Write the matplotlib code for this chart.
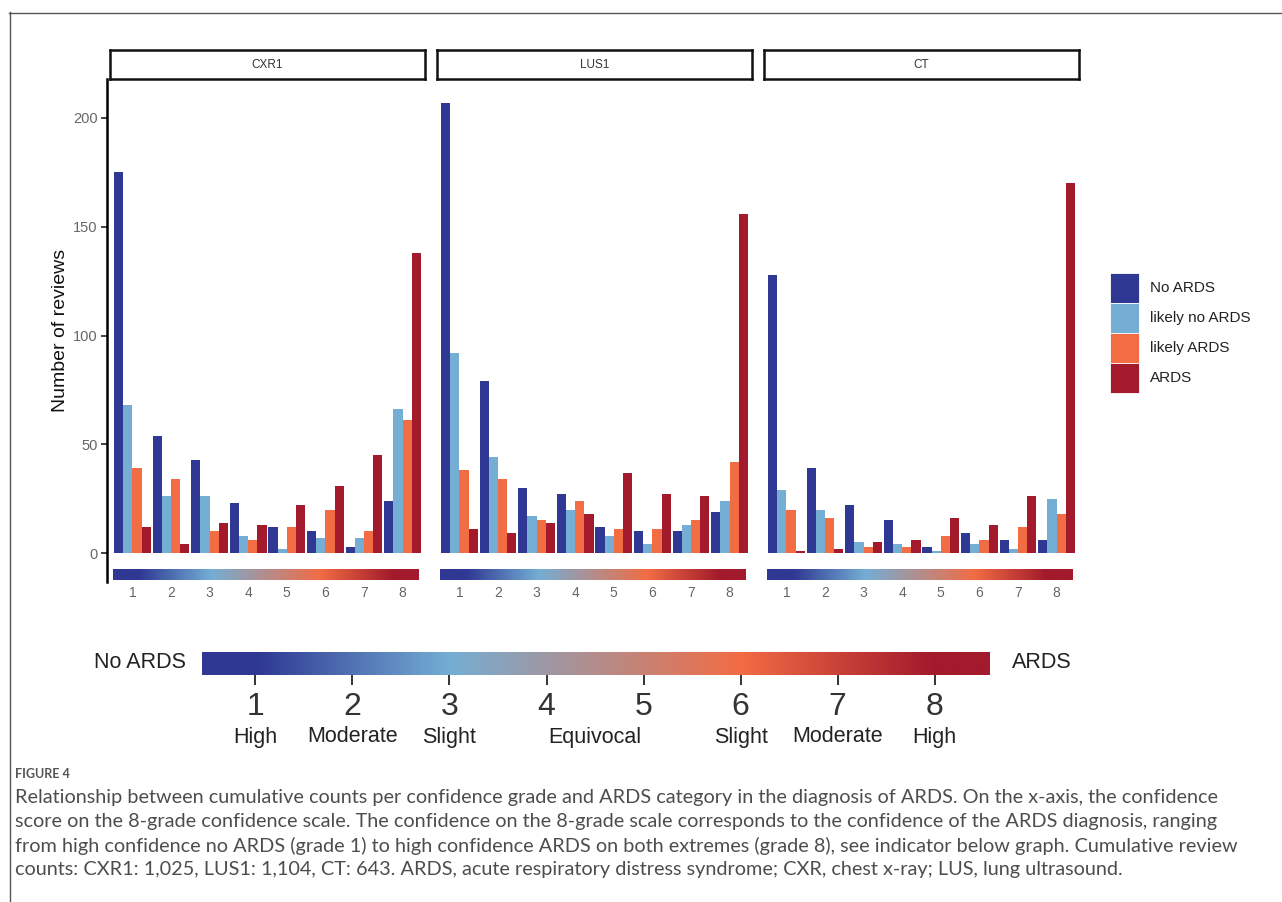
import numpy as np
import matplotlib
matplotlib.use("Agg")
import matplotlib.pyplot as plt
from matplotlib.colors import LinearSegmentedColormap, Normalize
from matplotlib.patches import Rectangle
from matplotlib.lines import Line2D

# ---------------- data ----------------
panels = ["CXR1", "LUS1", "CT"]
grades = [1, 2, 3, 4, 5, 6, 7, 8]
categories = ["No ARDS", "likely no ARDS", "likely ARDS", "ARDS"]
cat_colors = ["#2f3893", "#74aed4", "#f26c44", "#a21a2c"]

cxr1_no_ards = [175, 54, 43, 23, 12, 10, 3, 24]
cxr1_likely_no = [68, 26, 26, 8, 2, 7, 7, 66]
cxr1_likely = [39, 34, 10, 6, 12, 20, 10, 61]
cxr1_ards = [12, 4, 14, 13, 22, 31, 45, 138]

lus1_no_ards = [207, 79, 30, 27, 12, 10, 10, 19]
lus1_likely_no = [92, 44, 17, 20, 8, 4, 13, 24]
lus1_likely = [38, 34, 15, 24, 11, 11, 15, 42]
lus1_ards = [11, 9, 14, 18, 37, 27, 26, 156]

ct_no_ards = [128, 39, 22, 15, 3, 9, 6, 6]
ct_likely_no = [29, 20, 5, 4, 1, 4, 2, 25]
ct_likely = [20, 16, 3, 3, 8, 6, 12, 18]
ct_ards = [1, 2, 5, 6, 16, 13, 26, 170]

panel_data = {
    "CXR1": [cxr1_no_ards, cxr1_likely_no, cxr1_likely, cxr1_ards],
    "LUS1": [lus1_no_ards, lus1_likely_no, lus1_likely, lus1_ards],
    "CT": [ct_no_ards, ct_likely_no, ct_likely, ct_ards],
}

y_ticks = [0, 50, 100, 150, 200]
conf_labels = ["High", "Moderate", "Slight", "Equivocal", "Slight", "Moderate", "High"]
conf_label_pos = [1, 2, 3, 4.5, 6, 7, 8]

caption_title = "FIGURE 4"
caption_lines = [
    "Relationship between cumulative counts per confidence grade and ARDS category in the diagnosis of ARDS. On the x-axis, the confidence",
    "score on the 8-grade confidence scale. The confidence on the 8-grade scale corresponds to the confidence of the ARDS diagnosis, ranging",
    "from high confidence no ARDS (grade 1) to high confidence ARDS on both extremes (grade 8), see indicator below graph. Cumulative review",
    "counts: CXR1: 1,025, LUS1: 1,104, CT: 643. ARDS, acute respiratory distress syndrome; CXR, chest x-ray; LUS, lung ultrasound.",
]

# ---------------- layout ----------------
W, H, DPI = 1282, 902, 100
plt.rcParams["font.family"] = ["Liberation Sans", "DejaVu Sans"]

fig = plt.figure(figsize=(W / DPI, H / DPI), dpi=DPI)
fig.patch.set_facecolor("white")


def rect(x0, y0, x1, y1):
    return [x0 / W, 1 - y1 / H, (x1 - x0) / W, (y1 - y0) / H]


def fx(x):
    return x / W


def fy(y):
    return 1 - y / H


cmap = LinearSegmentedColormap.from_list(
    "ards", [(0.0, "#2f3893"), (2 / 7, "#74aed4"), (5 / 7, "#f26c44"), (1.0, "#a21a2c")]
)
norm = Normalize(1, 8)
grad = np.linspace(0.3, 8.7, 600)[None, :]

# outer page frame
fig.add_artist(Line2D([fx(9), fx(1282)], [fy(12.5), fy(12.5)], color="#555555", lw=1.0))
fig.add_artist(Line2D([fx(9.5), fx(9.5)], [fy(12), fy(902)], color="#555555", lw=1.0))

panel_x = [(110, 425), (437, 752), (764, 1079)]
YMIN, YMAX = -13.3, 217.9
group_w = 0.95
bar_w = group_w / 4

for i, (name, (x0, x1)) in enumerate(zip(panels, panel_x)):
    ax = fig.add_axes(rect(x0, 79, x1, 582))
    vals = panel_data[name]
    g = np.array(grades, dtype=float)
    for k, (series, col) in enumerate(zip(vals, cat_colors)):
        ax.bar(g + (k - 1.5) * bar_w, series, width=bar_w, color=col, linewidth=0,
               label=categories[k])
    # colour strip inside panel
    ax.imshow(grad, extent=(0.5, 8.42, -12.3, -7.4), aspect="auto", cmap=cmap,
              norm=norm, interpolation="bilinear")
    ax.set_xlim(0.42, 8.58)
    ax.set_ylim(YMIN, YMAX)
    for s in ["top", "right", "bottom"]:
        ax.spines[s].set_visible(False)
    ax.set_xticks(grades)
    ax.set_xticklabels([str(v) for v in grades], color="#666666", fontsize=10)
    ax.tick_params(axis="x", length=0, pad=3)
    if i == 0:
        ax.spines["left"].set_position(("outward", 2))
        ax.spines["left"].set_linewidth(1.8)
        ax.set_yticks(y_ticks)
        ax.set_yticklabels([str(v) for v in y_ticks], color="#666666", fontsize=10.5)
        ax.tick_params(axis="y", length=4, width=1.2, color="#222222", pad=3)
        ax.set_ylabel("Number of reviews", fontsize=14, color="#111111", labelpad=3)
    else:
        ax.spines["left"].set_visible(False)
        ax.set_yticks([])
    ax.patch.set_alpha(0)

    # strip
    sax = fig.add_axes(rect(x0, 50, x1, 79))
    sax.set_xticks([])
    sax.set_yticks([])
    for s in sax.spines.values():
        s.set_linewidth(1.8)
        s.set_color("#111111")
    sax.text(0.5, 0.5, name, ha="center", va="center", fontsize=8.5, color="#333333",
             transform=sax.transAxes)

# legend (category keys)
key_x0, key_x1 = 1110, 1139
for k, (lab, col) in enumerate(zip(categories, cat_colors)):
    ky0 = 273 + 30 * k
    fig.add_artist(Rectangle((fx(key_x0), fy(ky0 + 30)), (key_x1 - key_x0) / W, 30 / H,
                             transform=fig.transFigure, facecolor=col, edgecolor="white",
                             linewidth=0.6))
    fig.text(fx(1150), fy(ky0 + 15), lab, ha="left", va="center", fontsize=11,
             color="#222222")

# bottom indicator bar
bax = fig.add_axes(rect(202, 652, 990, 675))
bax.imshow(grad, extent=(0.3, 8.7, 0, 1), aspect="auto", cmap=cmap, norm=norm,
           interpolation="bilinear")
bax.set_xlim(0.45, 8.57)
bax.set_ylim(0, 1)
for s in bax.spines.values():
    s.set_visible(False)
bax.set_yticks([])
bax.set_xticks(grades)
bax.set_xticklabels([str(v) for v in grades], fontsize=23, color="#333333")
bax.tick_params(axis="x", length=7, width=1.4, color="#333333", pad=5)

fig.text(fx(186), fy(662), "No ARDS", ha="right", va="center", fontsize=15.5, color="#222222")
fig.text(fx(1012), fy(662), "ARDS", ha="left", va="center", fontsize=15.5, color="#222222")

for lab, pos in zip(conf_labels, conf_label_pos):
    xpix = 202 + (pos - 0.45) / (8.57 - 0.45) * (990 - 202)
    fig.text(fx(xpix), fy(737), lab, ha="center", va="center", fontsize=15.5, color="#222222")

# caption
cap_font = ["Lato", "DejaVu Sans"]
fig.text(fx(15), fy(774), caption_title, ha="left", va="center", fontsize=9,
         fontweight="bold", color="#555555", family=cap_font)

renderer = fig.canvas.get_renderer()
probe = fig.text(0, 0, caption_lines[0], fontsize=13, family=cap_font)
wpx = probe.get_window_extent(renderer=renderer).width
probe.remove()
cap_size = 13 * 1202 / wpx
for j, line in enumerate(caption_lines):
    fig.text(fx(15), fy(798 + 24 * j), line, ha="left", va="center", fontsize=cap_size,
             color="#4d4d4d", family=cap_font)

fig.savefig("out.png", dpi=DPI, facecolor="white")
